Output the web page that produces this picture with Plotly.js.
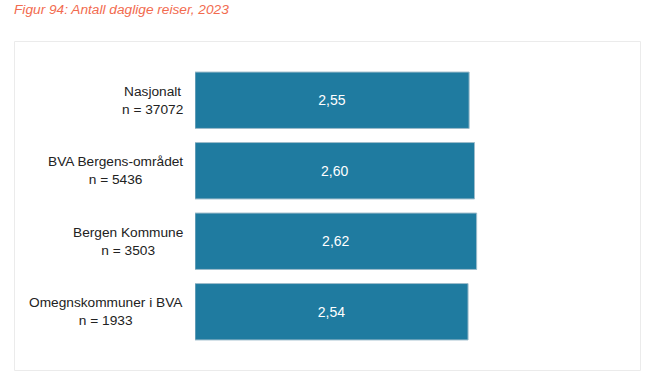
<!DOCTYPE html>
<html>
<head>
<meta charset="utf-8">
<script src="https://cdn.plot.ly/plotly-3.0.1.min.js"></script>
<style>
  html, body { margin: 0; padding: 0; background: #ffffff; }
  #chart { width: 664px; height: 385px; }
</style>
</head>
<body>
<div id="chart"></div>
<script>
const categories = ["Nasjonalt", "BVA Bergens-området", "Bergen Kommune", "Omegnskommuner i BVA"];
const sampleSizes = [37072, 5436, 3503, 1933];
const values = [2.55, 2.60, 2.62, 2.54];
const titleText = "Figur 94: Antall daglige reiser, 2023";

const fontFamily = "Liberation Sans, Arial, sans-serif";
const W = 664, H = 385;
const L = 195, R = 39, T = 65, B = 38;
const pw = W - L - R, ph = H - T - B;

// box around chart (pixel coords converted to paper)
const px2x = p => (p - L) / pw;
const py2y = p => (H - B - p) / ph;

const trace = {
  type: "bar",
  orientation: "h",
  y: categories,
  x: values,
  marker: { color: "#1f7ba0", line: { color: "#9dbccb", width: 1 } },
  text: values.map(v => v.toFixed(2).replace(".", ",")),
  textposition: "inside",
  insidetextanchor: "middle",
  textfont: { family: fontFamily, size: 14, color: "#ffffff" },
  hoverinfo: "skip",
  width: 0.8
};

const annotations = categories.map((c, i) => ({
  xref: "paper", yref: "y",
  x: 0, y: c,
  xanchor: "right", yanchor: "middle",
  xshift: -10,
  align: "center",
  showarrow: false,
  text: c + "<br>n = " + sampleSizes[i],
  font: { family: fontFamily, size: 13.7, color: "#222222" }
}));

const layout = {
  width: W, height: H,
  margin: { l: L, r: R, t: T, b: B, pad: 0 },
  paper_bgcolor: "#ffffff",
  plot_bgcolor: "#ffffff",
  showlegend: false,
  hovermode: false,
  title: {
    text: titleText,
    xref: "container", yref: "container",
    x: 14 / W, xanchor: "left",
    y: 1 - 4 / H, yanchor: "top",
    font: { family: fontFamily, size: 13.7, color: "#f26b4f", style: "italic" }
  },
  xaxis: {
    range: [0, 4],
    showticklabels: false, showgrid: false, zeroline: false, showline: false, ticks: ""
  },
  yaxis: {
    type: "category",
    range: [3.5, -0.5],
    showticklabels: false, showgrid: false, zeroline: false, showline: false, ticks: ""
  },
  annotations: annotations,
  shapes: [{
    type: "rect", xref: "paper", yref: "paper",
    x0: px2x(14.5), x1: px2x(640.5), y0: py2y(370.5), y1: py2y(41.5),
    line: { color: "#ebebeb", width: 1 },
    fillcolor: "rgba(0,0,0,0)",
    layer: "below"
  }]
};

Plotly.newPlot("chart", [trace], layout, { displayModeBar: false, staticPlot: true });
</script>
</body>
</html>
